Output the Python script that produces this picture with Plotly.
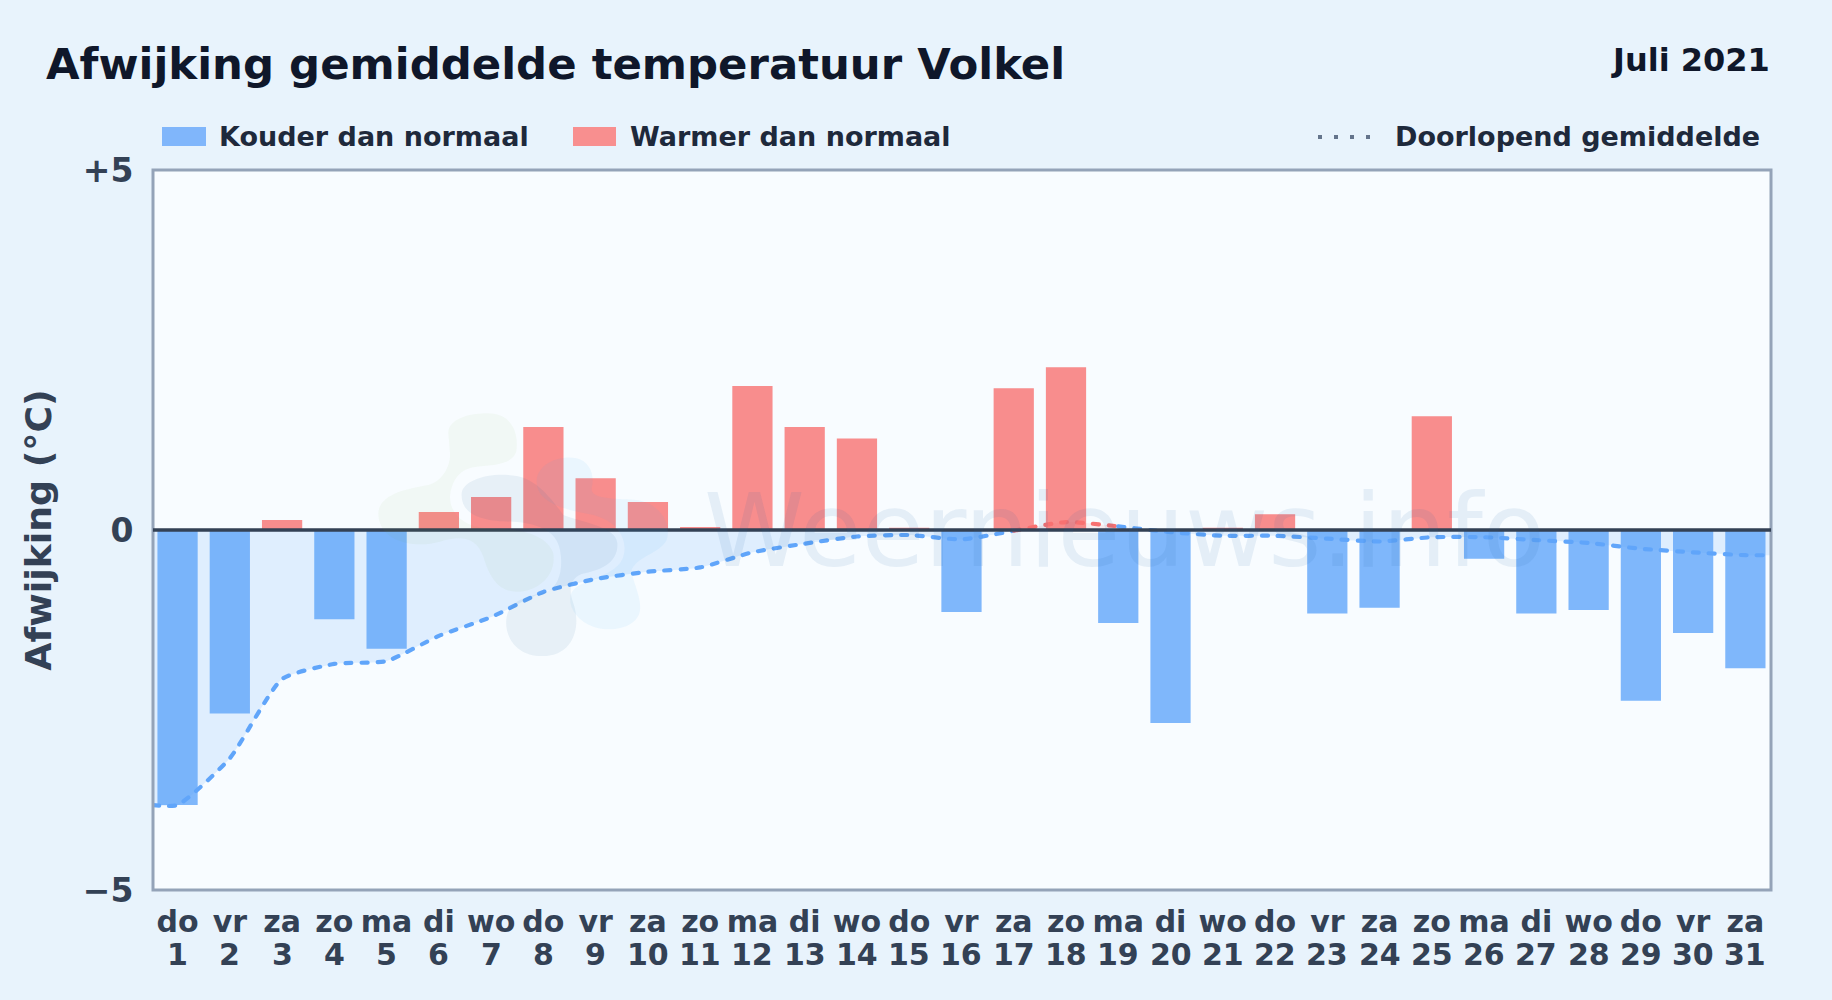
import plotly.graph_objects as go

# ---------- data ----------
days = list(range(1, 32))
weekdays = ["do", "vr", "za", "zo", "ma", "di", "wo", "do", "vr", "za", "zo", "ma", "di", "wo", "do", "vr",
            "za", "zo", "ma", "di", "wo", "do", "vr", "za", "zo", "ma", "di", "wo", "do", "vr", "za"]
deviation = [-3.82, -2.55, 0.14, -1.24, -1.65, 0.25, 0.46, 1.43, 0.72, 0.39, 0.04, 2.00, 1.43, 1.27, 0.03, -1.14,
             1.97, 2.26, -1.29, -2.68, 0.03, 0.22, -1.16, -1.08, 1.58, -0.40, -1.16, -1.11, -2.37, -1.43, -1.92]
running_mean = [-3.82, -3.17, -2.07, -1.86, -1.82, -1.47, -1.21, -0.86, -0.68, -0.58, -0.52, -0.31, -0.19, -0.09,
                -0.07, -0.13, -0.01, 0.11, 0.05, -0.03, -0.08, -0.08, -0.12, -0.16, -0.10, -0.10, -0.14, -0.18,
                -0.26, -0.31, -0.35]
y_ticks = [-5, 0, 5]
y_labels = ["\u22125", "0", "+5"]

# ---------- layout constants ----------
W, H = 1832, 1000
L, R, T, B = 153, 1771, 170, 890
SANS = "DejaVu Sans"
BLUE, RED = "#60a5fa", "#f87171"
X0, X1 = 0.53, 31.49

def px(x):
    return (x - L) / (R - L)

def py(y):
    return (B - y) / (B - T)

def blob(nums):
    """Watermark outline given in pixels relative to the logo origin (360,400), 3x."""
    vals = nums.replace("Z", "").replace("M", "").replace("C", " ").replace(",", " ").split()
    pts = [(px(360 + float(vals[i]) / 3), py(400 + float(vals[i + 1]) / 3)) for i in range(0, len(vals), 2)]
    s = f"M {pts[0][0]:.5f},{pts[0][1]:.5f}"
    for i in range(1, len(pts), 3):
        s += " C " + " ".join(f"{a:.5f},{b:.5f}" for a, b in pts[i:i + 3])
    return s + " Z"

fig = go.Figure()

cold_x = [d for d, v in zip(days, deviation) if v < 0]
cold_y = [v for v in deviation if v < 0]
warm_x = [d for d, v in zip(days, deviation) if v >= 0]
warm_y = [v for v in deviation if v >= 0]
BAR_W = 0.77
fig.add_bar(x=cold_x, y=cold_y, name="Kouder dan normaal", width=BAR_W, marker=dict(color="rgba(96,165,250,0.8)", line_width=0))
fig.add_bar(x=warm_x, y=warm_y, name="Warmer dan normaal", width=BAR_W, marker=dict(color="rgba(248,113,113,0.8)", line_width=0))

def mean_line(xs, ys, color, fill, name):
    fig.add_scatter(x=xs, y=ys, mode="lines", name=name, fill="tozeroy", fillcolor=fill,
                    line=dict(color=color, width=4.2, dash="6px,10px", shape="spline", smoothing=0.55),
                    hoverinfo="skip")

mean_line([X0] + days[:17], running_mean[:1] + running_mean[:17], BLUE, "rgba(96,165,250,0.16)", "Doorlopend gemiddelde")
mean_line(days[16:19], running_mean[16:19], RED, "rgba(248,113,113,0.12)", "Doorlopend gemiddelde (warm)")
mean_line(days[18:] + [X1], running_mean[18:] + running_mean[-1:], BLUE, "rgba(96,165,250,0.16)", "Doorlopend gemiddelde")

shapes = [
    dict(type="rect", xref="paper", yref="paper", x0=0, x1=1, y0=0, y1=1, layer="above",
         line=dict(color="#94a3b8", width=3), fillcolor="rgba(0,0,0,0)"),
    dict(type="line", xref="paper", yref="y", x0=0, x1=1, y0=0, y1=0, layer="above",
         line=dict(color="#334155", width=3.5)),
    dict(type="rect", xref="paper", yref="paper", x0=px(162), x1=px(206), y0=py(146), y1=py(127),
         fillcolor="#80b6fb", line_width=0),
    dict(type="rect", xref="paper", yref="paper", x0=px(573), x1=px(616), y0=py(146), y1=py(127),
         fillcolor="#f88f8f", line_width=0),
    dict(type="line", xref="paper", yref="paper", x0=px(1318), x1=px(1374), y0=py(137), y1=py(137),
         line=dict(color="#64748b", width=4, dash="4px,12px")),
]
for path, color in [
    ("M 265,100 C 265,55 330,40 385,40 C 445,40 475,85 470,145 C 468,190 410,195 350,200 C 300,205 275,240 270,290 "
     "C 270,340 310,380 380,385 C 470,385 560,400 580,460 C 590,530 530,575 470,575 C 410,575 385,520 370,470 "
     "C 350,410 300,405 240,425 C 170,445 60,430 55,345 C 52,280 150,265 205,255 C 245,245 272,200 270,160 Z",
     "rgba(110,170,60,0.05)"),
    ("M 305,280 C 310,240 390,215 470,228 C 530,240 570,290 610,345 C 660,365 770,380 772,430 C 775,490 720,510 665,522 "
     "C 630,535 625,570 640,610 C 665,680 640,770 545,768 C 470,768 430,710 440,650 C 450,600 500,590 560,575 "
     "C 600,560 610,500 600,450 C 590,390 530,370 460,365 C 380,365 300,350 305,280 Z",
     "rgba(30,90,150,0.075)"),
    ("M 530,240 C 535,190 600,165 650,175 C 690,185 705,225 695,265 C 690,300 780,295 830,300 C 900,310 935,370 920,420 "
     "C 900,460 830,470 815,510 C 815,540 845,590 840,630 C 835,680 760,700 700,680 C 640,660 615,600 640,570 "
     "C 670,535 770,530 790,470 C 805,420 775,365 700,345 C 620,330 525,310 530,240 Z",
     "rgba(56,165,245,0.07)"),
]:
    shapes.append(dict(type="path", xref="paper", yref="paper", path=blob(path), fillcolor=color, line_width=0, layer="above"))

def note(text, x, y, size, color, xanchor="left", yanchor="middle", **kw):
    return dict(text=text, x=px(x), y=py(y), xref="paper", yref="paper", showarrow=False, xanchor=xanchor, yanchor=yanchor,
                font=dict(family=SANS, size=size, color=color), **kw)

annotations = [
    note("<b>Afwijking gemiddelde temperatuur Volkel</b>", 44, 64, 43.4, "#0f172a"),
    note("<b>Juli 2021</b>", 1772, 60, 32, "#0f172a", xanchor="right"),
    note("<b>Kouder dan normaal</b>", 217, 137, 27, "#1e293b"),
    note("<b>Warmer dan normaal</b>", 628, 137, 27, "#1e293b"),
    note("<b>Doorlopend gemiddelde</b>", 1393, 137, 27, "#1e293b"),
    note("Weernieuws.info", 1124, 530, 102, "rgba(37,99,168,0.09)", xanchor="center"),
]
# day numbers under the weekday tick labels, placed on the x axis scale
for d in days:
    annotations.append(dict(text=f"<b>{d}</b>", x=d, xref="x", y=py(955), yref="paper", showarrow=False,
                            xanchor="center", yanchor="middle",
                            font=dict(family=SANS, size=30, color="#334155")))

fig.update_layout(
    width=W, height=H, margin=dict(l=L, r=W - R, t=T, b=H - B, pad=0),
    paper_bgcolor="#e8f3fc", plot_bgcolor="#f8fcff", barmode="overlay", showlegend=False,
    shapes=shapes, annotations=annotations, hovermode=False,
    font=dict(family=SANS),
    xaxis=dict(range=[X0, X1], tickmode="array", tickvals=days,
               ticktext=[f"<b>{w}</b>" for w in weekdays], tickangle=0,
               tickfont=dict(family=SANS, size=30, color="#334155"), ticks="outside", ticklen=5,
               tickcolor="rgba(0,0,0,0)", showgrid=False, zeroline=False, showline=False),
    yaxis=dict(range=[-5, 5], tickmode="array", tickvals=y_ticks, ticktext=[f"<b>{t}</b>" for t in y_labels],
               tickfont=dict(family=SANS, size=33, color="#334155"), ticks="outside", ticklen=12,
               tickcolor="rgba(0,0,0,0)", showgrid=False, zeroline=False, showline=False,
               title=dict(text="<b>Afwijking (\u00b0C)</b>", font=dict(family=SANS, size=36.3, color="#334155"), standoff=20)),
)

post = """
document.body.style.margin='0';document.body.style.overflow='hidden';
var st=document.createElement('style');st.textContent='.scatterlayer .js-line{stroke-linecap:round !important;}';document.head.appendChild(st);
"""
fig.write_html("out.html", post_script=post, config={"displayModeBar": False})
